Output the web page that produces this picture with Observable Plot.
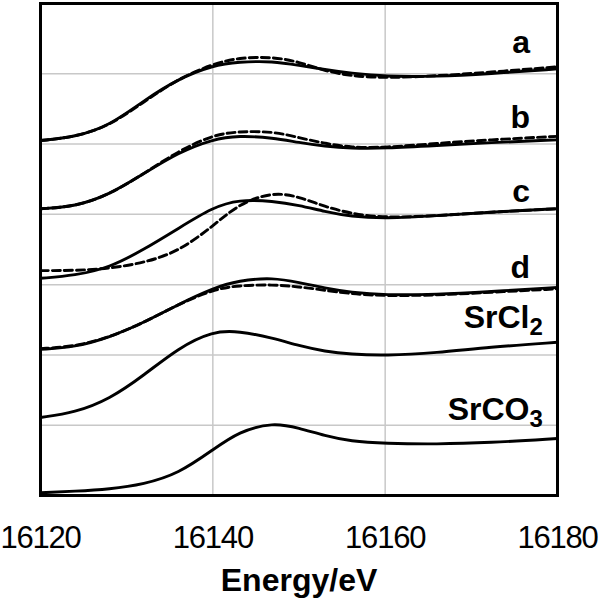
<!DOCTYPE html>
<html><head><meta charset="utf-8">
<script src="https://cdn.jsdelivr.net/npm/d3@7"></script>
<script src="https://cdn.jsdelivr.net/npm/@observablehq/plot@0.6"></script>
<style>html,body{margin:0;padding:0;background:#fff;overflow:hidden}</style>
</head><body><div id="chart"></div>
<script>
// Energy (eV)
const energy = [16120, 16124, 16128, 16132, 16136, 16140, 16143, 16147, 16150, 16153, 16156, 16160, 16166, 16172, 16180];
// Offset normalized absorption, solid and dashed spectra
const aSolid  = [5.05, 5.10, 5.26, 5.62, 5.93, 6.12, 6.17, 6.18, 6.12, 6.06, 6.01, 5.96, 5.96, 6.00, 6.07];
const aDashed = [5.05, 5.10, 5.26, 5.60, 5.93, 6.14, 6.23, 6.24, 6.17, 6.04, 5.97, 5.94, 5.97, 6.02, 6.10];
const bSolid  = [4.08, 4.11, 4.28, 4.58, 4.88, 5.07, 5.12, 5.09, 5.02, 4.97, 4.94, 4.94, 4.98, 5.02, 5.06];
const bDashed = [4.08, 4.11, 4.28, 4.58, 4.90, 5.13, 5.18, 5.18, 5.09, 5.01, 4.95, 4.95, 5.01, 5.06, 5.11];
const cSolid  = [3.09, 3.13, 3.24, 3.50, 3.80, 4.10, 4.21, 4.19, 4.13, 4.04, 3.97, 3.94, 3.98, 4.03, 4.08];
const cDashed = [3.20, 3.20, 3.23, 3.31, 3.47, 3.83, 4.15, 4.32, 4.25, 4.11, 4.01, 3.95, 3.98, 4.03, 4.08];
const dSolid  = [2.08, 2.11, 2.25, 2.46, 2.72, 2.95, 3.06, 3.10, 3.03, 2.95, 2.89, 2.85, 2.86, 2.90, 2.96];
const dDashed = [2.09, 2.12, 2.25, 2.46, 2.72, 2.93, 2.99, 3.00, 2.97, 2.92, 2.87, 2.84, 2.85, 2.89, 2.94];
const srcl2   = [1.11, 1.18, 1.37, 1.71, 2.10, 2.34, 2.34, 2.24, 2.13, 2.05, 2.01, 1.99, 2.03, 2.11, 2.18];
const srco3   = [0.04, 0.06, 0.09, 0.16, 0.31, 0.65, 0.91, 1.04, 0.96, 0.85, 0.77, 0.74, 0.73, 0.75, 0.81];

const series = [
  {name: "a", dash: false, values: aSolid},
  {name: "a", dash: true, values: aDashed},
  {name: "b", dash: false, values: bSolid},
  {name: "b", dash: true, values: bDashed},
  {name: "c", dash: false, values: cSolid},
  {name: "c", dash: true, values: cDashed},
  {name: "d", dash: false, values: dSolid},
  {name: "d", dash: true, values: dDashed},
  {name: "SrCl2", dash: false, values: srcl2},
  {name: "SrCO3", dash: false, values: srco3}
];

const labels = ["a", "b", "c", "d", "SrCl2", "SrCO3"];
const labelX = [16176.8, 16176.8, 16176.8, 16176.8, 16178.3, 16178.3];
const labelY = [6.29, 5.23, 4.17, 3.10, 2.38, 1.07];
const xTicks = [16120, 16140, 16160, 16180];
const gridEnergy = [16140, 16160];
const gridLevel = [1, 2, 3, 4, 5, 6];

const rows = series.flatMap(s => s.values.map((v, i) => ({
  key: s.name + (s.dash ? "-dashed" : "-solid"), dash: s.dash, energy: energy[i], value: v
})));

const chart = Plot.plot({
  width: 600, height: 601,
  marginLeft: 40, marginRight: 43, marginTop: 3, marginBottom: 106,
  style: {fontFamily: "'Liberation Sans', Arial, Helvetica, sans-serif", background: "#fff", color: "#000"},
  x: {domain: [16120, 16180], axis: null},
  y: {domain: [0, 7], axis: null},
  marks: [
    Plot.gridX(gridEnergy, {stroke: "#c8c8c8", strokeOpacity: 1, strokeWidth: 1.5}),
    Plot.gridY(gridLevel, {stroke: "#c8c8c8", strokeOpacity: 1, strokeWidth: 1.5}),
    Plot.line(rows.filter(d => !d.dash), {x: "energy", y: "value", z: "key", stroke: "#000", strokeWidth: 2.9, curve: "basis"}),
    Plot.line(rows.filter(d => d.dash), {x: "energy", y: "value", z: "key", stroke: "#000", strokeWidth: 2.9, strokeDasharray: "8,4", curve: "basis"}),
    Plot.frame({stroke: "#000", strokeWidth: 3}),
    Plot.axisX({ticks: xTicks, tickSize: 0, tickPadding: 30, fontSize: 31, label: null, tickFormat: d => String(d)}),
    Plot.text(labels, {x: (d, i) => labelX[i], y: (d, i) => labelY[i], text: d => d, textAnchor: "end", lineAnchor: "bottom", fontSize: 32, fontWeight: "bold", fill: "#000"}),
    Plot.text(["Energy/eV"], {frameAnchor: "bottom", text: d => d, dy: 95, lineAnchor: "bottom", fontSize: 32, fontWeight: "bold", fill: "#000"})
  ]
});

// chemical subscripts
chart.querySelectorAll("text").forEach(t => {
  const m = t.textContent.match(/^(Sr[A-Za-z]+)(\d)$/);
  if (m) {
    t.textContent = m[1];
    const ts = document.createElementNS("http://www.w3.org/2000/svg", "tspan");
    ts.setAttribute("dy", "0.3em");
    ts.setAttribute("font-size", "0.75em");
    ts.textContent = m[2];
    t.appendChild(ts);
  }
});
const tickGroup = chart.querySelector('g[aria-label="x-axis tick label"]');
if (tickGroup) tickGroup.setAttribute("letter-spacing", "-1.2");

document.getElementById("chart").appendChild(chart);
</script>
</body></html>
